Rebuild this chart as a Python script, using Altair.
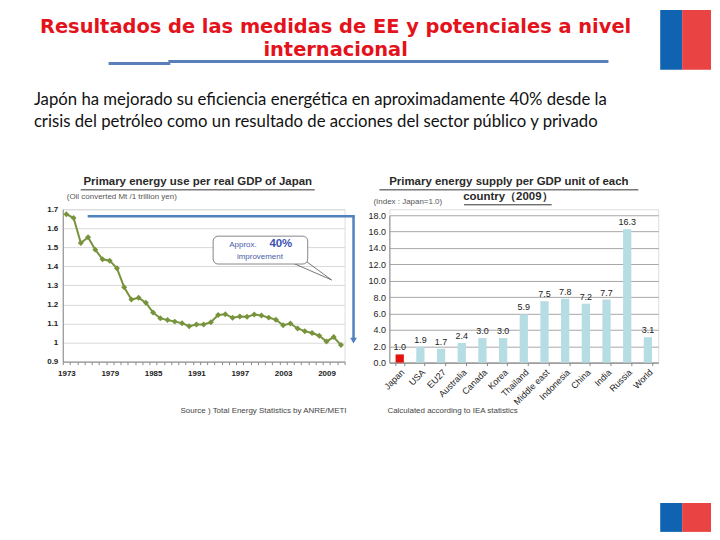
import altair as alt
import pandas as pd

# ---------------- data ----------------
years = list(range(1973, 2012))
energy_per_gdp = [1.674, 1.654, 1.523, 1.553, 1.488, 1.437, 1.430, 1.390, 1.290, 1.226,
                  1.235, 1.209, 1.158, 1.128, 1.118, 1.110, 1.102, 1.086, 1.095, 1.095,
                  1.107, 1.145, 1.149, 1.130, 1.137, 1.135, 1.147, 1.142, 1.131, 1.120,
                  1.091, 1.100, 1.074, 1.060, 1.050, 1.036, 1.006, 1.029, 0.987]
year_label_every = 6

countries = ["Japan", "USA", "EU27", "Australia", "Canada", "Korea", "Thailand",
             "Middle east", "Indonesia", "China", "India", "Russia", "World"]
supply_index = [1.0, 1.9, 1.7, 2.4, 3.0, 3.0, 5.9, 7.5, 7.8, 7.2, 7.7, 16.3, 3.1]

left_y_ticks = [0.9, 1.0, 1.1, 1.2, 1.3, 1.4, 1.5, 1.6, 1.7]
right_y_ticks = [0, 2, 4, 6, 8, 10, 12, 14, 16, 18]

page_title_1 = "Resultados de las medidas de EE y potenciales a nivel"
page_title_2 = "internacional"
para_1 = "Japón ha mejorado su eficiencia energética en aproximadamente 40% desde la"
para_2 = "crisis del petróleo como un resultado de acciones del sector público y privado"

FONT = "Liberation Sans"
one = pd.DataFrame({"k": [0]})

def txt(s, x, y, size=8, color="#333333", weight="normal", align="left", font=FONT):
    return alt.Chart(one).mark_text(
        text=s, fontSize=size, color=color, fontWeight=weight, align=align,
        baseline="middle", font=font
    ).encode(x=alt.value(x), y=alt.value(y))

def rule(x, x2, y, y2, color, w=1.0):
    return alt.Chart(one).mark_rule(color=color, strokeWidth=w).encode(
        x=alt.value(x), x2=alt.value(x2), y=alt.value(y), y2=alt.value(y2))

def box(x, x2, y, y2, color, **kw):
    return alt.Chart(one).mark_rect(color=color, **kw).encode(
        x=alt.value(x), x2=alt.value(x2), y=alt.value(y), y2=alt.value(y2))

# ---------------- left chart ----------------
# local origin = page (62, 208)
OX, OY = 62, 208

df_l = pd.DataFrame({"year": years, "value": energy_per_gdp})

x_l = alt.X("year:O", bandPosition=0.5,
            scale=alt.Scale(type="band", paddingInner=0, paddingOuter=0),
            axis=alt.Axis(title=None, labelAngle=0, tickBand="extent", tickSize=3,
                          tickColor="#888888", domainColor="#888888",
                          labelExpr=f"(datum.value - {years[0]}) % {year_label_every} == 0 ? datum.label : ''",
                          labelOverlap=False, labelFont=FONT, labelFontSize=8,
                          labelFontWeight="bold", labelColor="#222222", labelPadding=5,
                          grid=False))
y_l = alt.Y("value:Q", scale=alt.Scale(domain=[0.9, 1.7], nice=False, zero=False),
            axis=alt.Axis(title=None, values=left_y_ticks, format="~f", ticks=False,
                          domainColor="#888888", gridColor="#d9d9d9", labelFont=FONT,
                          labelFontSize=8, labelFontWeight="bold", labelColor="#222222",
                          labelPadding=5))

line_l = alt.Chart(df_l).mark_line(color="#77933c", strokeWidth=2).encode(x=x_l, y=y_l)
pts_l = alt.Chart(df_l).mark_point(shape="diamond", filled=True, size=36, color="#77933c",
                                   opacity=1).encode(x=x_l, y=y_l)

blue = "#4f81bd"
deco = []
# invisible page anchor (page 8..712, 8..532)
deco.append(box(8 - OX, 712 - OX, 8 - OY, 532 - OY, "white", fillOpacity=0))
# page title
deco.append(txt(page_title_1, 336 - OX, 25 - OY, size=19.5, color="#e3121b", weight="bold",
                align="center", font="DejaVu Sans"))
deco.append(txt(page_title_2, 336 - OX, 48 - OY, size=19.5, color="#e3121b", weight="bold",
                align="center", font="DejaVu Sans"))
deco.append(rule(108 - OX, 170 - OX, 61.5 - OY, 61.5 - OY, "#5b7fba", 3))
deco.append(rule(168 - OX, 610 - OX, 59.5 - OY, 59.5 - OY, "#5b7fba", 3))
# flags
deco.append(box(662 - OX, 684 - OX, 8 - OY, 68 - OY, "#0f63b0"))
deco.append(box(684 - OX, 713 - OX, 8 - OY, 68 - OY, "#ea4343"))
deco.append(box(662 - OX, 684 - OX, 503 - OY, 532 - OY, "#0f63b0"))
deco.append(box(684 - OX, 713 - OX, 503 - OY, 532 - OY, "#ea4343"))
# paragraph
deco.append(txt(para_1, 33 - OX, 98 - OY, size=16.8, color="#111111", font="Lato"))
deco.append(txt(para_2, 33 - OX, 120 - OY, size=16.8, color="#111111", font="Lato"))
# left chart title / subtitle / source
deco.append(txt("Primary energy use per real GDP of Japan", 197.5 - OX, 181 - OY, size=11.5,
                color="#2a2a2a", weight="bold", align="center"))
deco.append(rule(80 - OX, 315 - OX, 188.5 - OY, 188.5 - OY, "#333333", 1))
deco.append(txt("(Oil converted Mt /1 trillion yen)", 66 - OX, 196 - OY, size=8, color="#555555"))
deco.append(txt("Source ) Total Energy Statistics by ANRE/METI", 347 - OX, 411 - OY, size=8,
                color="#444444", align="right"))
# 40% arrow
deco.append(rule(87 - OX, 355 - OX, 215 - OY, 215 - OY, blue, 2.5))
deco.append(rule(354 - OX, 354 - OX, 214 - OY, 338 - OY, blue, 2.5))
deco.append(alt.Chart(one).mark_point(shape="triangle-down", filled=True, size=45, color=blue,
                                      opacity=1).encode(x=alt.value(354 - OX), y=alt.value(340 - OY)))
# callout
deco.append(rule(293 - OX, 332 - OX, 262 - OY, 279 - OY, "#555555", 0.8))
deco.append(rule(306 - OX, 332 - OX, 260 - OY, 279 - OY, "#555555", 0.8))
deco.append(box(213 - OX, 308 - OX, 235 - OY, 263 - OY, "white", stroke="#666666",
                strokeWidth=0.8, cornerRadius=5))
deco.append(txt("Approx.", 243 - OX, 244 - OY, size=8, color="#4a5ca8", align="center"))
deco.append(txt("40%", 281 - OX, 243 - OY, size=11.5, color="#3c50b4", weight="bold", align="center"))
deco.append(txt("improvement", 260 - OX, 256 - OY, size=8, color="#4a5ca8", align="center"))

left = alt.layer(line_l, pts_l, *deco).properties(width=283, height=153)

# ---------------- right chart ----------------
RX, RY = 390, 208
df_r = pd.DataFrame({"country": countries, "value": supply_index})

x_r = alt.X("country:N", sort=countries,
            scale=alt.Scale(paddingInner=0.6, paddingOuter=0.3),
            axis=alt.Axis(title=None, labelAngle=-45, labelAlign="right", labelBaseline="top",
                          tickBand="extent", tickSize=3, tickColor="#888888",
                          domainColor="#888888", labelFont=FONT, labelFontSize=9,
                          labelColor="#222222", labelPadding=2, grid=False))
y_r = alt.Y("value:Q", scale=alt.Scale(domain=[0, 18], range=[154, 6], nice=False),
            axis=alt.Axis(title=None, values=right_y_ticks, format=".1f", ticks=False,
                          domainColor="#888888", gridColor="#a6a6a6", labelFont=FONT,
                          labelFontSize=9, labelColor="#222222", labelPadding=4))

bars = alt.Chart(df_r).mark_bar().encode(
    x=x_r, y=y_r,
    color=alt.condition(alt.datum.country == "Japan", alt.value("#e3120b"), alt.value("#b6dde3")))
labels = alt.Chart(df_r).mark_text(dy=-7, fontSize=9, font=FONT, color="#222222").encode(
    x=x_r, y=y_r, text=alt.Text("value:Q", format=".1f"))

rdeco = []
rdeco.append(txt("Primary energy supply per GDP unit of each", 510 - RX, 181 - RY, size=11.5,
                 color="#2a2a2a", weight="bold", align="center"))
rdeco.append(rule(380 - RX, 640 - RX, 188.5 - RY, 188.5 - RY, "#333333", 1))
rdeco.append(txt("country（2009）", 509 - RX, 196 - RY, size=11.5, color="#2a2a2a",
                 weight="bold", align="center"))
rdeco.append(rule(465 - RX, 553 - RX, 203.5 - RY, 203.5 - RY, "#333333", 1))
rdeco.append(txt("(Index : Japan=1.0)", 374 - RX, 201 - RY, size=8, color="#555555"))
rdeco.append(txt("Calculated according to IEA statistics", 388 - RX, 411 - RY, size=8,
                 color="#444444"))

right = alt.layer(bars, labels, *rdeco).properties(width=270, height=154)

chart = alt.hconcat(left, right, spacing=45, bounds="flush").properties(
    padding=0
).configure_view(stroke=None).configure(background="white")

chart.save("out.html", embed_options={"renderer": "svg", "actions": False})
